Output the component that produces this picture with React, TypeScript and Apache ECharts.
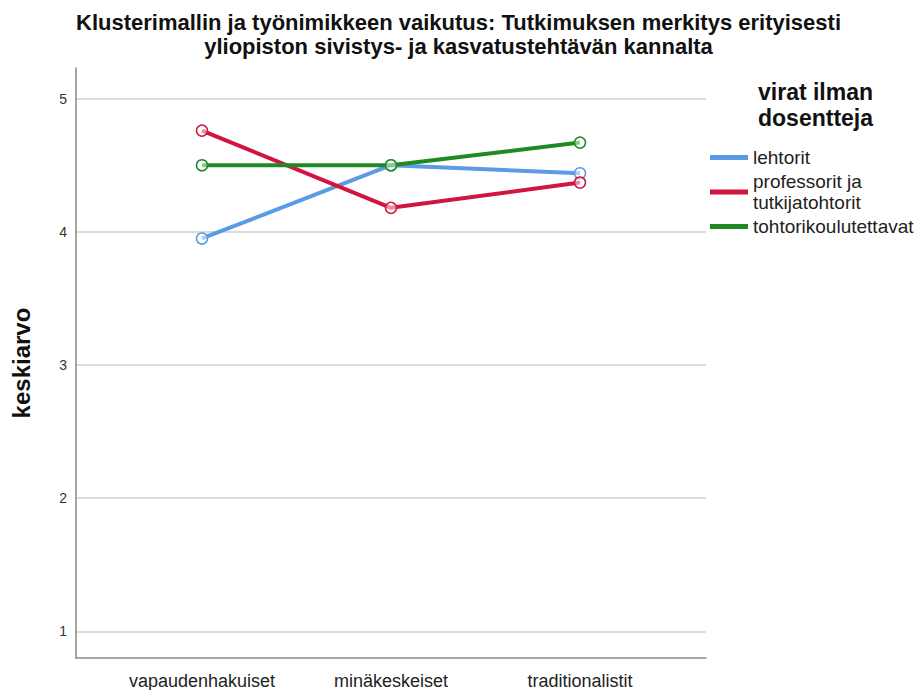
import React, { useEffect, useRef } from "react";
import * as echarts from "echarts";

const titleText = "Klusterimallin ja työnimikkeen vaikutus: Tutkimuksen merkitys erityisesti\nyliopiston sivistys- ja kasvatustehtävän kannalta";
const categories = ["vapaudenhakuiset", "minäkeskeiset", "traditionalistit"];
const yTicks = [1, 2, 3, 4, 5];
const legendTitle = "virat ilman\ndosentteja";
const seriesNames = ["lehtorit", "professorit ja\ntutkijatohtorit", "tohtorikoulutettavat"];
const lehtorit = [3.95, 4.5, 4.44];
const professorit = [4.76, 4.18, 4.37];
const tohtorikoulutettavat = [4.5, 4.5, 4.67];
const colors = ["#5a9be3", "#d2153f", "#1f8a24"];

const FONT = "'Liberation Sans', Arial, sans-serif";

export default function App() {
  const ref = useRef<HTMLDivElement>(null);
  useEffect(() => {
    document.body.style.margin = "0";
    const chart = echarts.init(ref.current!, null, { renderer: "svg" });
    const allValues = [lehtorit, professorit, tohtorikoulutettavat];
    const series = allValues.map((vals, i) => ({
      name: seriesNames[i],
      type: "line",
      data: vals.map((v, j) => [j, v]),
      symbol: "circle",
      symbolSize: 11,
      lineStyle: { color: colors[i], width: 4 },
      itemStyle: { color: "rgba(255,255,255,0.5)", borderColor: colors[i], borderWidth: 1.5 },
      emphasis: { disabled: true },
      z: 3 + (i === 2 ? 1 : 0),
    }));
    chart.setOption({
      animation: false,
      textStyle: { fontFamily: FONT },
      title: {
        text: titleText,
        left: "center",
        top: 10,
        padding: 0,
        textStyle: { fontSize: 22, fontWeight: "bold", color: "#111", lineHeight: 24, fontFamily: FONT },
      },
      graphic: [
        {
          type: "text",
          left: 758,
          top: 79,
          style: {
            text: legendTitle,
            font: `bold 23px ${FONT}`,
            fill: "#111",
            align: "center",
            lineHeight: 26,
          },
        },
      ],
      legend: {
        orient: "vertical",
        left: 705,
        top: 142,
        icon: "rect",
        itemWidth: 38,
        itemHeight: 5,
        itemGap: 3,
        textStyle: { fontSize: 19, lineHeight: 21, color: "#222", fontFamily: FONT },
        data: seriesNames.map((n, i) => ({ name: n, itemStyle: { color: colors[i], borderWidth: 0 } })),
      },
      grid: { left: 76, right: 211, top: 68, bottom: 30 },
      xAxis: {
        type: "value",
        min: -2 / 3,
        max: 8 / 3,
        axisLine: { show: true, onZero: false, lineStyle: { color: "#8a8a8a", width: 1.5 } },
        axisTick: { show: false, customValues: [0, 1, 2] },
        splitLine: { show: false },
        axisLabel: {
          customValues: [0, 1, 2],
          formatter: (v: number) => categories[Math.round(v)] ?? "",
          fontSize: 18,
          color: "#222",
          margin: 14,
          fontFamily: FONT,
        },
      },
      yAxis: {
        type: "value",
        min: 0.8,
        max: 5.23,
        name: "keskiarvo",
        nameLocation: "middle",
        nameRotate: 90,
        nameGap: 43,
        nameTextStyle: { fontSize: 24, fontWeight: "bold", color: "#111", fontFamily: FONT },
        axisLine: { show: true, onZero: false, lineStyle: { color: "#8a8a8a", width: 1.5 } },
        axisTick: { show: false, customValues: yTicks },
        splitLine: { show: true, lineStyle: { color: "#cfcfcf", width: 1.5 } },
        axisLabel: { customValues: yTicks, fontSize: 14, color: "#333", margin: 9, fontFamily: FONT },
      },
      series,
    });
    return () => chart.dispose();
  }, []);
  return <div ref={ref} style={{ width: 917, height: 690 }} />;
}
